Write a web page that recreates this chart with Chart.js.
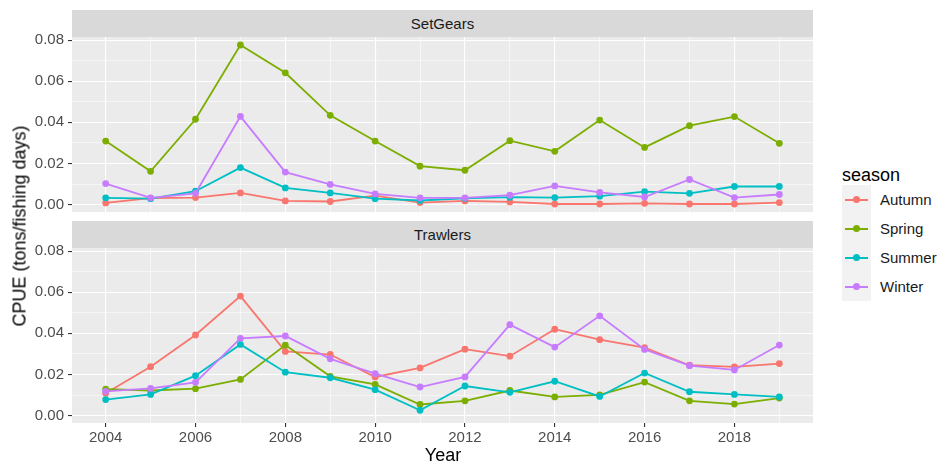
<!DOCTYPE html>
<html>
<head>
<meta charset="utf-8">
<script src="https://cdn.jsdelivr.net/npm/chart.js@4/dist/chart.umd.min.js"></script>
<style>
  body { margin: 0; background: #fff; }
  #wrap { position: relative; width: 938px; height: 466px; font-family: 'Liberation Sans', Arial, sans-serif; }
  canvas { position: absolute; left: 0; }
  .strip { position: absolute; left: 72px; width: 741px; height: 27px; background: #D9D9D9;
           color: #1A1A1A; font-size: 15px; line-height: 27px; text-align: center; }
  #ytitle { position: absolute; left: 20px; top: 226px; font-size: 18px; color: #000;
            transform: translate(-50%, -50%) rotate(-90deg); white-space: nowrap; }
  #xtitle { position: absolute; left: 443px; top: 455px; font-size: 18px; color: #000;
            transform: translate(-50%, -50%); }
  #legend { position: absolute; left: 842px; top: 166px; }
  #legend .title { font-size: 18px; line-height: 18px; color: #000; margin: 0 0 1px 0; }
  .key { position: relative; height: 29px; }
  .key .box { position: absolute; left: 0; top: 0; width: 29px; height: 29px; background: #F2F2F2; }
  .key .ln { position: absolute; left: 3px; top: 13.5px; width: 23px; height: 2px; }
  .key .pt { position: absolute; left: 11px; top: 11px; width: 7px; height: 7px; border-radius: 50%; }
  .key .lbl { position: absolute; left: 38px; top: 0; line-height: 29px; font-size: 15px; color: #1A1A1A; }
</style>
</head>
<body>
<div id="wrap">
  <div class="strip" style="top:10px">SetGears</div>
  <div class="strip" style="top:221px">Trawlers</div>
  <canvas id="setGearsChart" width="820" height="200" style="top:17px"></canvas>
  <canvas id="trawlersChart" width="820" height="217" style="top:228px"></canvas>
  <div id="ytitle">CPUE (tons/fishing days)</div>
  <div id="xtitle">Year</div>
  <div id="legend"></div>
</div>
<script>
var years = [2004, 2005, 2006, 2007, 2008, 2009, 2010, 2011, 2012, 2013, 2014, 2015, 2016, 2017, 2018, 2019];
var seasons = ['Autumn', 'Spring', 'Summer', 'Winter'];
var seasonColors = ['#F8766D', '#7CAE00', '#00BFC4', '#C77CFF'];
var yTicks = [0, 0.01, 0.02, 0.03, 0.04, 0.05, 0.06, 0.07, 0.08];
var yTickLabels = ['0.00', '', '0.02', '', '0.04', '', '0.06', '', '0.08'];

// SetGears CPUE by season
var setGearsAutumn = [0.0008, 0.0031, 0.0034, 0.0057, 0.0018, 0.0015, 0.0044, 0.0010, 0.0018, 0.0013, 0.0003, 0.0003, 0.0006, 0.0003, 0.0003, 0.0010];
var setGearsSpring = [0.0309, 0.0162, 0.0415, 0.0776, 0.0641, 0.0434, 0.0309, 0.0187, 0.0167, 0.0311, 0.0259, 0.0411, 0.0278, 0.0384, 0.0428, 0.0298];
var setGearsSummer = [0.0033, 0.0029, 0.0065, 0.0180, 0.0081, 0.0057, 0.0029, 0.0020, 0.0030, 0.0036, 0.0034, 0.0041, 0.0063, 0.0055, 0.0088, 0.0088];
var setGearsWinter = [0.0102, 0.0033, 0.0055, 0.0429, 0.0158, 0.0098, 0.0052, 0.0033, 0.0033, 0.0046, 0.0091, 0.0059, 0.0037, 0.0122, 0.0034, 0.0049];

// Trawlers CPUE by season
var trawlersAutumn = [0.0109, 0.0238, 0.0392, 0.0581, 0.0312, 0.0297, 0.0188, 0.0232, 0.0323, 0.0289, 0.0420, 0.0369, 0.0330, 0.0245, 0.0237, 0.0253];
var trawlersSpring = [0.0129, 0.0122, 0.0131, 0.0176, 0.0343, 0.0191, 0.0152, 0.0054, 0.0072, 0.0122, 0.0091, 0.0101, 0.0163, 0.0072, 0.0056, 0.0085];
var trawlersSummer = [0.0078, 0.0103, 0.0194, 0.0346, 0.0211, 0.0184, 0.0126, 0.0026, 0.0144, 0.0113, 0.0167, 0.0093, 0.0207, 0.0116, 0.0103, 0.0091];
var trawlersWinter = [0.0118, 0.0132, 0.0162, 0.0376, 0.0387, 0.0276, 0.0204, 0.0139, 0.0188, 0.0442, 0.0333, 0.0485, 0.0322, 0.0243, 0.0222, 0.0343];

var tickFont = { family: "'Liberation Sans', Arial, sans-serif", size: 15 };

// grey panel behind the grid
var panelBackground = {
  id: 'panelBackground',
  beforeDraw: function (chart) {
    var a = chart.chartArea;
    chart.ctx.save();
    chart.ctx.fillStyle = '#EBEBEB';
    chart.ctx.fillRect(a.left, a.top, a.right - a.left, a.bottom - a.top);
    chart.ctx.restore();
  }
};

function makeDatasets(series) {
  return series.map(function (values, i) {
    return {
      label: seasons[i],
      data: years.map(function (y, j) { return { x: y, y: values[j] }; }),
      borderColor: seasonColors[i],
      backgroundColor: seasonColors[i],
      borderWidth: 1.8,
      pointRadius: 3.4,
      pointBorderWidth: 0,
      pointBackgroundColor: seasonColors[i],
      tension: 0,
      clip: false,
      order: 4 - i
    };
  });
}

function majorWidth(ctx) { return ctx.index % 2 === 0 ? 1.1 : 0.55; }
function tickMarkColor(ctx) { return ctx.index % 2 === 0 ? '#333333' : 'rgba(0,0,0,0)'; }

function makeChart(canvas, series, showX, padBottom) {
  return new Chart(canvas, {
    type: 'line',
    data: { datasets: makeDatasets(series) },
    plugins: [panelBackground],
    options: {
      responsive: false,
      animation: false,
      devicePixelRatio: 1,
      layout: { padding: { top: 20, right: 7, bottom: padBottom, left: 0 } },
      plugins: { legend: { display: false }, tooltip: { enabled: false } },
      scales: {
        x: {
          type: 'linear',
          min: 2003.25,
          max: 2019.75,
          afterBuildTicks: function (scale) {
            scale.ticks = years.map(function (y) { return { value: y }; });
          },
          afterFit: function (scale) {
            scale.height = showX ? 22 : 0;
            scale.paddingLeft = 0;
            scale.paddingRight = 0;
          },
          border: { display: false },
          grid: {
            color: '#FFFFFF',
            lineWidth: majorWidth,
            drawTicks: showX,
            tickLength: 4,
            tickColor: tickMarkColor,
            tickWidth: 1.1
          },
          ticks: {
            display: showX,
            autoSkip: false,
            maxRotation: 0,
            padding: 2,
            color: '#4D4D4D',
            font: tickFont,
            callback: function (v, i) { return i % 2 === 0 ? String(v) : ''; }
          }
        },
        y: {
          min: -0.0036,
          max: 0.0815,
          afterBuildTicks: function (scale) {
            scale.ticks = yTicks.map(function (v) { return { value: v }; });
          },
          afterFit: function (scale) {
            scale.width = 72;
            scale.paddingTop = 0;
            scale.paddingBottom = 0;
          },
          border: { display: false },
          grid: {
            color: '#FFFFFF',
            lineWidth: majorWidth,
            tickLength: 4,
            tickColor: tickMarkColor,
            tickWidth: 1.1
          },
          ticks: {
            padding: 4,
            color: '#4D4D4D',
            font: tickFont,
            callback: function (v, i) { return yTickLabels[i]; }
          }
        }
      }
    }
  });
}

makeChart(document.getElementById('setGearsChart'),
  [setGearsAutumn, setGearsSpring, setGearsSummer, setGearsWinter], false, 5);
makeChart(document.getElementById('trawlersChart'),
  [trawlersAutumn, trawlersSpring, trawlersSummer, trawlersWinter], true, 0);

// legend keys
var legend = document.getElementById('legend');
var html = '<div class="title">season</div>';
seasons.forEach(function (s, i) {
  html += '<div class="key"><div class="box"></div>' +
    '<div class="ln" style="background:' + seasonColors[i] + '"></div>' +
    '<div class="pt" style="background:' + seasonColors[i] + '"></div>' +
    '<div class="lbl">' + s + '</div></div>';
});
legend.innerHTML = html;
</script>
</body>
</html>
